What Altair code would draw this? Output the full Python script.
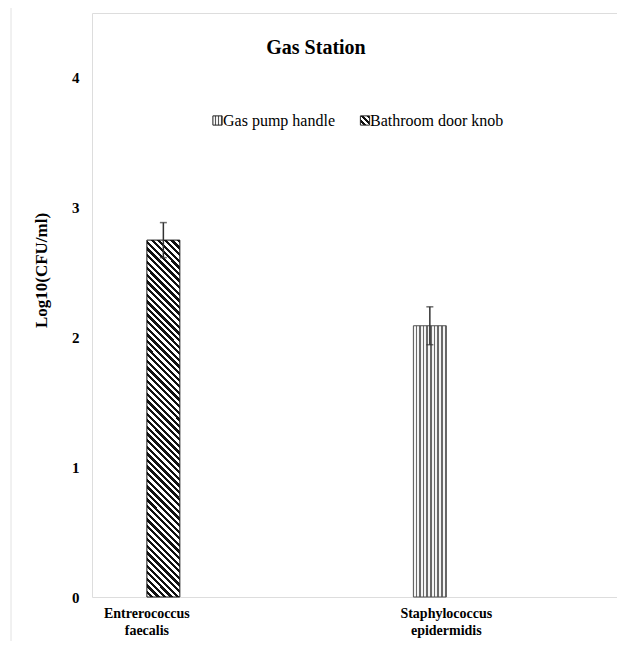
import math
import altair as alt
import pandas as pd

# ---------------- data ----------------
categories = ["Entrerococcus faecalis", "Staphylococcus epidermidis"]
series = ["Gas pump handle", "Bathroom door knob"]
bar_category = ["Entrerococcus faecalis", "Staphylococcus epidermidis"]
bar_series = ["Bathroom door knob", "Gas pump handle"]
bar_value = [2.75, 2.09]
bar_error = [0.135, 0.146]
y_ticks = [0, 1, 2, 3, 4]
chart_title = "Gas Station"
y_title = "Log10(CFU/ml)"

df = pd.DataFrame({"category": bar_category, "series": bar_series,
                   "value": bar_value, "error": bar_error})
df["lo"] = df["value"] - df["error"]
df["hi"] = df["value"] + df["error"]

# ---------------- layout / style ----------------
W, H = 525, 584
YMAX = 4.5
BAR_W = 33.0
FONT = "Liberation Serif"


def stripe_stops(n, c_bg, c_fg, frac_fg):
    stops = []
    for i in range(n):
        a = round(i / n, 6)
        b = round((i + 1 - frac_fg) / n, 6)
        c = round(min(1.0, (i + 1) / n), 6)
        stops += [alt.GradientStop(color=c_bg, offset=a),
                  alt.GradientStop(color=c_bg, offset=b),
                  alt.GradientStop(color=c_fg, offset=b),
                  alt.GradientStop(color=c_fg, offset=c)]
    return stops


def vertical_hatch(width, period, bg, fg, frac):
    n = max(1, round(width / period))
    return alt.LinearGradient(gradient="linear", stops=stripe_stops(n, bg, fg, frac),
                              x1=0, y1=0, x2=1, y2=0)


def diagonal_hatch(w, h, period, bg, fg, frac):
    a = w / h
    k = (1 + a) / (1 + a * a)
    L = (w + h) / math.sqrt(2)
    n = max(1, round(L / period))
    return alt.LinearGradient(gradient="linear", stops=stripe_stops(n, bg, fg, frac),
                              x1=0, y1=1, x2=round(k * a, 6), y2=round(1 - k, 6))


v_bath = bar_value[bar_series.index("Bathroom door knob")]
h_bath = v_bath / YMAX * H
fill_gas = vertical_hatch(BAR_W, 3.6, "#f4f4f4", "#6a6a6a", 0.42)
fill_bath = diagonal_hatch(BAR_W, h_bath, 4.7, "#ffffff", "#111111", 0.5)
leg_gas = vertical_hatch(9, 3.0, "#f4f4f4", "#555555", 0.45)
leg_bath = diagonal_hatch(9, 9, 4.2, "#ffffff", "#111111", 0.5)

x_enc = alt.X("category:N",
              scale=alt.Scale(domain=categories, paddingInner=0.78,
                              paddingOuter=0.2667, align=0.1375),
              axis=alt.Axis(title=None, labelAngle=0,
                            labelExpr="split(datum.label, ' ')",
                            labelFont=FONT, labelFontWeight="bold",
                            labelFontSize=14, labelLineHeight=17.5,
                            labelPadding=9, labelColor="black",
                            ticks=False, domain=False, grid=False))
xo_enc = alt.XOffset("series:N",
                     scale=alt.Scale(domain=series, paddingInner=0, paddingOuter=0))
y_scale = alt.Scale(domain=[0, YMAX], nice=False)
y_axis = alt.Axis(values=y_ticks, format="d", grid=False, ticks=False, domain=False,
                  labelFont=FONT, labelFontWeight="bold", labelFontSize=15,
                  labelPadding=13, labelColor="black",
                  title=y_title, titleFont=FONT, titleFontWeight="bold",
                  titleFontSize=17, titleColor="black", titleX=-42, titleY=257)

base = alt.Chart(df).encode(x=x_enc, xOffset=xo_enc)

bars_gas = base.transform_filter(alt.datum.series == "Gas pump handle").mark_bar(
    fill=fill_gas, stroke="#505050", strokeWidth=1
).encode(y=alt.Y("value:Q", scale=y_scale, axis=y_axis))

bars_bath = base.transform_filter(alt.datum.series == "Bathroom door knob").mark_bar(
    fill=fill_bath, stroke="#111111", strokeWidth=1
).encode(y=alt.Y("value:Q", scale=y_scale, axis=y_axis))

err = base.mark_rule(color="#333333", strokeWidth=1.5).encode(
    y=alt.Y("lo:Q", scale=y_scale), y2="hi:Q")
cap_hi = base.mark_tick(color="#333333", thickness=1.5, size=7, orient="horizontal").encode(
    y=alt.Y("hi:Q", scale=y_scale))
cap_lo = base.mark_tick(color="#333333", thickness=1.5, size=7, orient="horizontal").encode(
    y=alt.Y("lo:Q", scale=y_scale))

title_mark = alt.Chart(pd.DataFrame({"t": [chart_title]})).mark_text(
    font=FONT, fontWeight="bold", fontSize=20, color="black",
    align="center", baseline="middle"
).encode(text="t:N", x=alt.value(224), y=alt.value(35))

leg_text_gas = alt.Chart(pd.DataFrame({"t": [series[0]]})).mark_text(
    font=FONT, fontSize=16, color="black", align="left", baseline="middle"
).encode(text="t:N", x=alt.value(131), y=alt.value(108))
leg_text_bath = alt.Chart(pd.DataFrame({"t": [series[1]]})).mark_text(
    font=FONT, fontSize=16, color="black", align="left", baseline="middle"
).encode(text="t:N", x=alt.value(278), y=alt.value(108))
leg_sq_gas = alt.Chart(pd.DataFrame({"t": [series[0]]})).mark_square(
    size=85, fill=leg_gas, fillOpacity=1, stroke="#222222", strokeWidth=1
).encode(x=alt.value(125.5), y=alt.value(107.5))
leg_sq_bath = alt.Chart(pd.DataFrame({"t": [series[1]]})).mark_square(
    size=85, fill=leg_bath, fillOpacity=1, stroke="#222222", strokeWidth=1
).encode(x=alt.value(273), y=alt.value(107.5))

# faint page edge line at the far left of the reference image
edge = alt.Chart(pd.DataFrame({"t": [0]})).mark_rule(
    color="#e2e2e2", strokeWidth=1
).encode(x=alt.value(-81), y=alt.value(-13), y2=alt.value(H + 60))

chart = alt.layer(
    edge, bars_gas, bars_bath, err, cap_hi, cap_lo,
    title_mark, leg_sq_gas, leg_text_gas, leg_sq_bath, leg_text_bath
).properties(
    width=W, height=H,
    autosize=alt.AutoSizeParams(type="none"),
    padding={"left": 84, "top": 5, "right": 0, "bottom": 44},
).configure_view(
    stroke="#808080", strokeWidth=1.5
).configure(background="white")

chart.save("out.html", embed_options={"renderer": "svg", "actions": False})
